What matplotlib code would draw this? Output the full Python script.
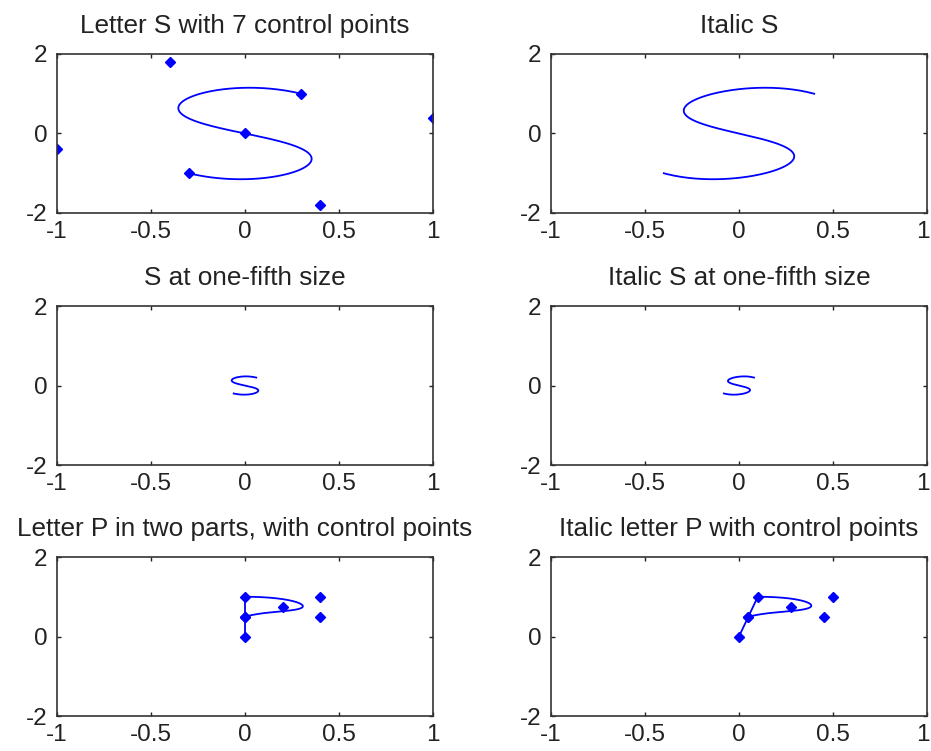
import numpy as np
import matplotlib
matplotlib.use("Agg")
import matplotlib.pyplot as plt
import matplotlib.transforms as mtransforms
from math import comb

matplotlib.rcParams['font.family'] = ['Liberation Sans', 'DejaVu Sans']
matplotlib.rcParams['axes.unicode_minus'] = False

# Control polygon of the S (one Bezier of degree 6)
s_x = [0.3, -0.4, -1.0, 0.0, 1.0, 0.4, -0.3]
s_y = [1.0, 1.8, -0.4, 0.0, 0.4, -1.8, -1.0]

# Letter P: stem and bowl, each its own Bezier
p_stem_x = [0.0, 0.0, 0.0]
p_stem_y = [0.0, 0.5, 1.0]
p_bowl_x = [0.0, 0.4, 0.4, 0.2, 0.0]
p_bowl_y = [1.0, 1.0, 0.5, 0.75, 0.5]

slant = 0.1     # x shift per unit of height for the italic versions
small = 0.2     # one-fifth size

x_ticks = [-1, -0.5, 0, 0.5, 1]
x_tick_labels = ['-1', '-0.5', '0', '0.5', '1']
y_ticks = [-2, 0, 2]
y_tick_labels = ['-2', '0', '2']

titles = ['Letter S with 7 control points', 'Italic S',
          'S at one-fifth size', 'Italic S at one-fifth size',
          'Letter P in two parts, with control points',
          'Italic letter P with control points']

BLUE = (0, 0, 1)
LW = 1.3
MS = 5


def bezier(px, py, n=200):
    px = np.asarray(px, float)
    py = np.asarray(py, float)
    deg = len(px) - 1
    t = np.linspace(0, 1, n)
    basis = np.array([comb(deg, k) * t**k * (1 - t)**(deg - k) for k in range(deg + 1)])
    return basis.T @ px, basis.T @ py


def italic(x, y):
    return np.asarray(x) + slant * np.asarray(y), np.asarray(y)


def style(ax, title):
    ax.set_xlim(-1, 1)
    ax.set_ylim(-2, 2)
    ax.set_xticks(x_ticks)
    ax.set_xticklabels(x_tick_labels)
    ax.set_yticks(y_ticks)
    ax.set_yticklabels(y_tick_labels)
    ax.tick_params(direction='in', length=3, width=1, top=True, right=True,
                   labelsize=17.5, colors='#222222')
    ax.tick_params(axis='x', pad=6)
    ax.tick_params(axis='y', pad=7)
    for sp in ax.spines.values():
        sp.set_color('#333333')
        sp.set_linewidth(1.2)
    ax.set_title(title, fontsize=18.8, pad=15, color='#222222')


fig = plt.figure(figsize=(9.31, 7.51), dpi=100)
lefts = [0.0612, 0.5918]
bottoms = [0.7164, 0.3808, 0.0466]
axs = [[fig.add_axes([l, b, 0.4039, 0.2117]) for l in lefts] for b in bottoms]

sx, sy = bezier(s_x, s_y)
ix, iy = italic(sx, sy)

# row 1: full-size S with its control points, then slanted
axs[0][0].plot(sx, sy, color=BLUE, lw=LW)
axs[0][0].plot(s_x, s_y, 'D', color=BLUE, ms=MS)
axs[0][1].plot(ix, iy, color=BLUE, lw=LW)

# row 2: both scaled down
axs[1][0].plot(small * sx, small * sy, color=BLUE, lw=LW)
axs[1][1].plot(small * ix, small * iy, color=BLUE, lw=LW)

# row 3: the P, upright and slanted
stem = bezier(p_stem_x, p_stem_y)
bowl = bezier(p_bowl_x, p_bowl_y)
pts_x = p_stem_x + p_bowl_x[1:]
pts_y = p_stem_y + p_bowl_y[1:]

ax = axs[2][0]
ax.plot(*stem, color=BLUE, lw=LW)
ax.plot(*bowl, color=BLUE, lw=LW)
ax.plot(pts_x, pts_y, 'D', color=BLUE, ms=MS)

ax = axs[2][1]
ax.plot(*italic(*stem), color=BLUE, lw=LW)
ax.plot(*italic(*bowl), color=BLUE, lw=LW)
ax.plot(*italic(pts_x, pts_y), 'D', color=BLUE, ms=MS)

for ax, t in zip([a for row in axs for a in row], titles):
    style(ax, t)

# the "1" at the far right edge of the right column would run off the figure
nudge = mtransforms.ScaledTranslation(-4 / 100, 0, fig.dpi_scale_trans)
for row in axs:
    lab = row[1].get_xticklabels()[-1]
    lab.set_transform(lab.get_transform() + nudge)

fig.savefig('out.png', dpi=100)
